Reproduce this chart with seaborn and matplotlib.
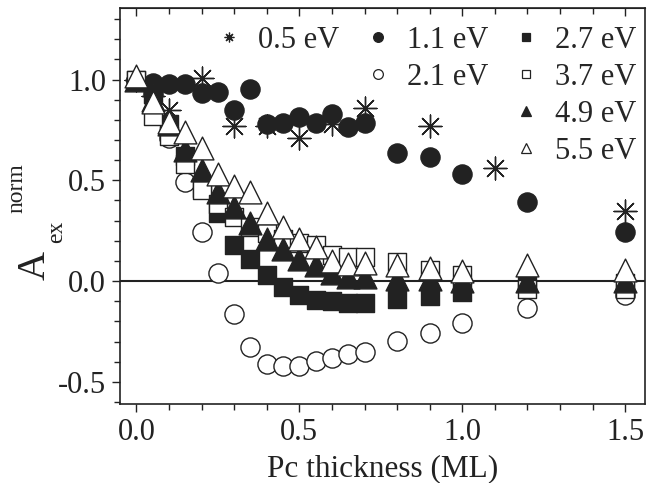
import numpy as np
import pandas as pd
import seaborn as sns
import matplotlib.pyplot as plt
from matplotlib.lines import Line2D
from matplotlib.ticker import MultipleLocator

# thickness grid used by most series (ML)
x_main = [0, 0.05, 0.1, 0.15, 0.2, 0.25, 0.3, 0.35, 0.4, 0.45, 0.5,
          0.55, 0.6, 0.65, 0.7, 0.8, 0.9, 1.0, 1.2, 1.5]
# 0.5 eV was measured on a coarser grid
x_05 = [0, 0.05, 0.1, 0.2, 0.3, 0.4, 0.5, 0.6, 0.7, 0.9, 1.1, 1.5]

y_05 = [1.0, 0.92, 0.85, 1.01, 0.77, 0.77, 0.71, 0.78, 0.86, 0.77, 0.56, 0.35]
y_11 = [1.0, 0.985, 0.98, 0.98, 0.935, 0.94, 0.85, 0.955, 0.78, 0.785, 0.815,
        0.785, 0.83, 0.765, 0.785, 0.635, 0.615, 0.53, 0.39, 0.245]
y_21 = [1.0, 0.93, 0.71, 0.49, 0.245, 0.04, -0.165, -0.325, -0.41, -0.42, -0.42,
        -0.395, -0.38, -0.36, -0.35, -0.295, -0.26, -0.21, -0.135, -0.07]
y_27 = [1.0, 0.93, 0.78, 0.62, 0.46, 0.34, 0.18, 0.11, 0.03, -0.03, -0.07,
        -0.095, -0.1, -0.11, -0.11, -0.09, -0.075, -0.055, -0.01, -0.01]
y_37 = [1.0, 0.82, 0.72, 0.58, 0.45, 0.38, 0.32, 0.27, 0.24, 0.21, 0.19,
        0.18, 0.13, 0.12, 0.12, 0.095, 0.055, 0.03, -0.04, -0.04]
y_49 = [1.0, 0.9, 0.78, 0.65, 0.55, 0.44, 0.37, 0.29, 0.21, 0.16, 0.11,
        0.08, 0.04, 0.02, 0.02, 0.01, 0.01, 0.0, 0.0, 0.0]
y_55 = [1.02, 0.89, 0.79, 0.74, 0.66, 0.53, 0.47, 0.44, 0.34, 0.27, 0.21,
        0.17, 0.1, 0.085, 0.09, 0.08, 0.065, 0.05, 0.08, 0.055]

labels = ['0.5 eV', '1.1 eV', '2.1 eV', '2.7 eV', '3.7 eV', '4.9 eV', '5.5 eV']

sns.set_style('ticks')
plt.rcParams['font.family'] = ['Liberation Serif', 'DejaVu Serif']
plt.rcParams['axes.unicode_minus'] = False

ink = '#222222'
# (label, x, y, marker, face, size)
series = [
    ('0.5 eV', x_05, y_05, (8, 2, 0), ink, 270),
    ('1.1 eV', x_main, y_11, 'o', ink, 190),
    ('2.1 eV', x_main, y_21, 'o', 'white', 190),
    ('2.7 eV', x_main, y_27, 's', ink, 150),
    ('3.7 eV', x_main, y_37, 's', 'white', 150),
    ('4.9 eV', x_main, y_49, '^', ink, 270),
    ('5.5 eV', x_main, y_55, '^', 'white', 270),
]

fig = plt.figure(figsize=(6.58, 4.83), dpi=100)
ax = fig.add_axes([0.1824, 0.1636, 0.7976, 0.8198])

ax.axhline(0, color=ink, lw=1.5, zorder=1)

handles = []
for i, (lab, xs, ys, mk, face, s) in enumerate(series):
    df = pd.DataFrame({'x': xs, 'y': ys})
    sns.scatterplot(data=df, x='x', y='y', ax=ax, marker=mk, s=s,
                    color=face, edgecolor=ink, linewidth=1.0, zorder=2 + i)
    handles.append(Line2D([], [], ls='none', marker=mk, markersize=7 if mk != 's' else 6,
                          markerfacecolor=face, markeredgecolor=ink, markeredgewidth=0.9))

blank = Line2D([], [], ls='none')
h = handles
leg_handles = [h[0], blank, blank, blank, h[1], h[2], blank, blank, h[3], h[4], h[5], h[6]]
leg_labels = [labels[0], ' ', ' ', ' ', labels[1], labels[2], ' ', ' ',
              labels[3], labels[4], labels[5], labels[6]]
ax.legend(leg_handles, leg_labels, ncol=3, loc='upper right', bbox_to_anchor=(1.008, 0.985),
          frameon=False, fontsize=22, handlelength=1.0, handletextpad=0.45,
          columnspacing=0.75, labelspacing=0.26, borderpad=0.4, borderaxespad=0.0)

ax.set_xlim(-0.05, 1.56)
ax.set_ylim(-0.61, 1.355)
ax.xaxis.set_major_locator(MultipleLocator(0.5))
ax.xaxis.set_minor_locator(MultipleLocator(0.1))
ax.yaxis.set_major_locator(MultipleLocator(0.5))
ax.yaxis.set_minor_locator(MultipleLocator(0.1))
ax.tick_params(which='both', direction='out', width=1.0, labelsize=22, colors=ink)
ax.tick_params(which='major', length=6, pad=4)
ax.tick_params(which='minor', length=4)
for sp in ax.spines.values():
    sp.set_linewidth(1.2)
    sp.set_color(ink)

top = ax.secondary_xaxis('top')
top.xaxis.set_major_locator(MultipleLocator(0.5))
top.xaxis.set_minor_locator(MultipleLocator(0.1))
top.tick_params(which='both', direction='in', labeltop=False, width=1.0, colors=ink)
top.tick_params(which='major', length=6)
top.tick_params(which='minor', length=4)

ax.set_xlabel('Pc thickness (ML)', fontsize=22.5, color=ink, labelpad=5)
ax.set_ylabel('')

# y label built from pieces: A, subscript ex, superscript norm
fig.text(45 / 658, 1 - 280 / 483, 'A', fontsize=29, rotation=90, rotation_mode='anchor',
         ha='left', va='baseline', color=ink)
fig.text(62 / 658, 1 - 243 / 483, 'ex', fontsize=17, rotation=90, rotation_mode='anchor',
         ha='left', va='baseline', color=ink)
fig.text(22 / 658, 1 - 213 / 483, 'norm', fontsize=17, rotation=90, rotation_mode='anchor',
         ha='left', va='baseline', color=ink)

fig.savefig('out.png', dpi=100)
